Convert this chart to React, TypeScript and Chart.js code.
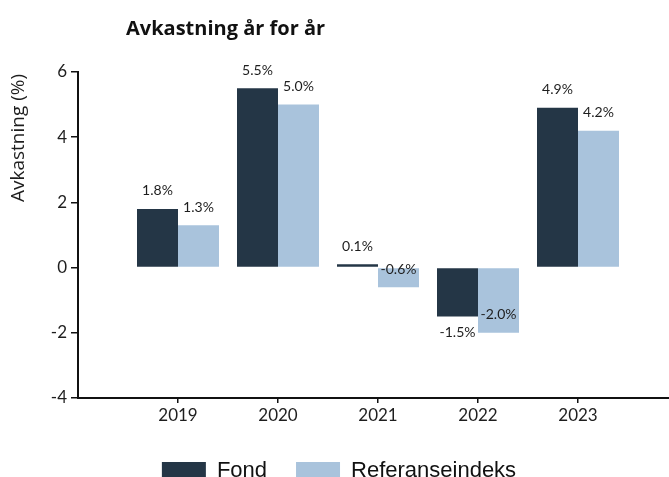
import React, { useEffect, useRef } from 'react';
import { Chart, registerables } from 'chart.js';

Chart.register(...registerables);

const years = [2019, 2020, 2021, 2022, 2023];
const fondValues = [1.8, 5.5, 0.1, -1.5, 4.9];
const refValues = [1.3, 5.0, -0.6, -2.0, 4.2];
const seriesNames = ['Fond', 'Referanseindeks'];
const seriesColors = ['#243646', '#a9c3dc'];
const yMin = -4;
const yMax = 6;
const yStep = 2;
const titleText = 'Avkastning år for år';
const yAxisTitle = 'Avkastning (%)';

const FONT = 'Lato, "Open Sans", sans-serif';
const WIDE = '"Open Sans", Lato, sans-serif';
const TEXT = '#1e1e1e';

export default function App() {
  const ref = useRef<HTMLCanvasElement | null>(null);

  useEffect(() => {
    if (!ref.current) return;
    const allValues = [fondValues, refValues];

    const labelsPlugin = {
      id: 'valueLabels',
      afterDatasetsDraw(chart: any) {
        const ctx = chart.ctx;
        ctx.save();
        ctx.font = `14px ${FONT}`;
        ctx.fillStyle = TEXT;
        ctx.textAlign = 'center';
        ctx.textBaseline = 'middle';
        chart.data.datasets.forEach((_ds: any, di: number) => {
          const meta = chart.getDatasetMeta(di);
          meta.data.forEach((bar: any, i: number) => {
            const v = allValues[di][i];
            const y = di === 0 && v < 0 ? bar.y + 16 : bar.y - 18;
            ctx.fillText(v.toFixed(1) + '%', bar.x, y);
          });
        });
        ctx.restore();
      },
    };

    const textPlugin = {
      id: 'titles',
      afterDraw(chart: any) {
        const ctx = chart.ctx;
        const area = chart.chartArea;
        ctx.save();
        ctx.fillStyle = '#111';
        ctx.font = `bold 20px ${WIDE}`;
        ctx.textAlign = 'left';
        ctx.textBaseline = 'alphabetic';
        ctx.fillText(titleText, area.left + 48, 35);
        ctx.translate(19, 138);
        ctx.rotate(-Math.PI / 2);
        ctx.font = `19px ${WIDE}`;
        ctx.fillStyle = TEXT;
        ctx.textAlign = 'center';
        ctx.textBaseline = 'middle';
        ctx.fillText(yAxisTitle, 0, 0);
        ctx.restore();
      },
    };

    const chart = new Chart(ref.current, {
      type: 'bar',
      data: {
        datasets: [fondValues, refValues].map((vals, di) => ({
          label: seriesNames[di],
          data: years.map((y, i) => ({ x: y, y: vals[i] })),
          backgroundColor: seriesColors[di],
          borderWidth: 0,
          categoryPercentage: 0.82,
          barPercentage: 1,
        })),
      },
      options: {
        responsive: false,
        animation: false,
        layout: { padding: { top: 72, left: 0, right: 2, bottom: 0 } },
        scales: {
          x: {
            type: 'linear',
            offset: false,
            min: years[0] - 1,
            max: years[years.length - 1] + 1,
            afterBuildTicks: (s: any) => {
              s.ticks = years.map((v) => ({ value: v }));
            },
            afterFit: (s: any) => {
              s.height = 33;
            },
            ticks: {
              stepSize: 1,
              callback: (v: any) => String(v),
              font: { family: FONT, size: 17 },
              color: TEXT,
              padding: 2,
              maxRotation: 0,
            },
            grid: { offset: false, drawOnChartArea: false, drawTicks: true, tickLength: 5, color: '#111', lineWidth: 1.5 },
            border: { display: true, color: '#111', width: 2 },
          },
          y: {
            min: yMin,
            max: yMax,
            afterFit: (s: any) => {
              s.width = 78;
            },
            ticks: {
              stepSize: yStep,
              font: { family: FONT, size: 17 },
              color: TEXT,
              padding: 4,
            },
            grid: { drawOnChartArea: false, drawTicks: true, tickLength: 7, color: '#111', lineWidth: 1.5 },
            border: { display: true, color: '#111', width: 2 },
          },
        },
        plugins: {
          legend: {
            position: 'bottom',
            labels: {
              boxWidth: 44,
              boxHeight: 18,
              padding: 29,
              color: '#111',
              font: { family: '"Liberation Sans", Arial, sans-serif', size: 22 },
            },
          },
          title: { display: false },
          tooltip: { enabled: false },
        },
      },
      plugins: [labelsPlugin, textPlugin],
    } as any);

    return () => chart.destroy();
  }, []);

  return (
    <div style={{ position: 'fixed', left: 0, top: 0, width: 669, height: 477, overflow: 'hidden', background: '#fff' }}>
      <canvas ref={ref} width={680} height={492} style={{ display: 'block', width: 680, height: 492 }} />
    </div>
  );
}
